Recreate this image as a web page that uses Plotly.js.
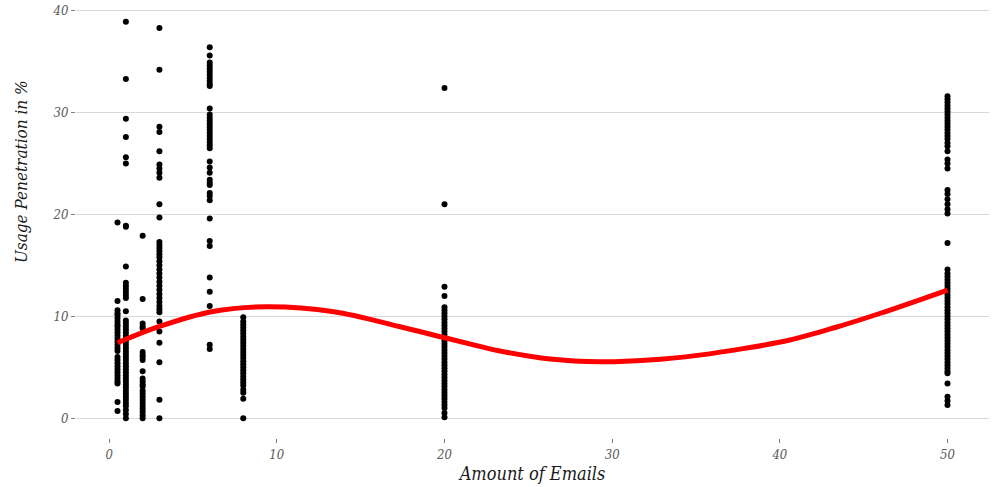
<!DOCTYPE html>
<html>
<head>
<meta charset="utf-8">
<script src="https://cdn.plot.ly/plotly-3.0.1.min.js"></script>
<style>html,body{margin:0;padding:0;background:#fff;}#chart{width:992px;height:487px;}</style>
</head>
<body>
<div id="chart"></div>
<script>
// Amount of emails per column and the usage penetration (%) values observed at each
const amounts = [0.5, 1, 2, 3, 6, 8, 20, 50];
const pen_0_5 = [19.2, 11.5, 10.6, 10.3, 10.1, 9.8, 9.5, 9.2, 9.0, 8.7, 8.4, 8.1, 7.8, 7.5, 7.2, 6.9, 6.6, 6.0, 5.7, 5.4, 5.1, 4.8, 4.5, 4.2, 3.9, 3.6, 3.4, 1.6, 0.7];
const pen_1 = [38.9, 33.3, 29.4, 27.6, 25.6, 25.0, 18.9, 18.8, 14.9, 13.3, 13.0, 12.7, 12.4, 12.1, 11.8, 10.5, 9.6, 9.3, 9.0, 8.7, 8.4, 8.1, 7.8, 7.5, 7.2, 6.9, 6.6, 6.3, 6.0, 5.7, 5.4, 5.1, 4.8, 4.5, 4.2, 3.9, 3.6, 3.3, 3.0, 2.7, 2.4, 2.1, 1.8, 1.5, 1.2, 0.8, 0.4, 0.0];
const pen_2 = [17.9, 11.7, 9.3, 9.0, 8.8, 6.5, 6.2, 6.0, 5.7, 4.6, 3.9, 3.6, 3.3, 3.1, 2.7, 2.4, 2.1, 1.8, 1.5, 1.2, 0.9, 0.6, 0.3, 0.0];
const pen_3 = [38.3, 34.2, 28.6, 28.1, 26.2, 24.9, 24.5, 24.1, 23.6, 21.0, 19.7, 17.3, 17.0, 16.7, 16.4, 16.1, 15.8, 15.4, 15.0, 14.6, 14.2, 13.8, 13.4, 13.0, 12.6, 12.2, 11.8, 11.4, 11.0, 10.7, 10.4, 9.5, 8.5, 7.4, 5.5, 1.8, 0.0];
const pen_6 = [36.4, 35.6, 34.9, 34.6, 34.3, 34.0, 33.7, 33.4, 33.1, 32.8, 32.6, 30.4, 29.8, 29.5, 29.2, 28.9, 28.6, 28.3, 28.0, 27.7, 27.4, 27.1, 26.8, 26.5, 25.2, 24.6, 24.1, 23.4, 23.1, 22.9, 22.1, 21.8, 21.4, 19.6, 17.4, 16.9, 13.8, 12.4, 11.0, 7.2, 6.8];
const pen_8 = [9.9, 9.5, 9.2, 8.9, 8.6, 8.3, 8.0, 7.7, 7.4, 7.1, 6.8, 6.5, 6.2, 5.9, 5.6, 5.3, 5.0, 4.7, 4.4, 4.1, 3.8, 3.5, 3.2, 2.8, 2.5, 1.9, 0.0];
const pen_20 = [32.4, 21.0, 12.9, 12.0, 10.9, 10.6, 10.3, 10.0, 9.7, 9.4, 9.1, 8.8, 8.5, 8.2, 7.9, 7.6, 7.3, 7.0, 6.7, 6.4, 6.1, 5.8, 5.5, 5.2, 4.9, 4.6, 4.3, 4.0, 3.7, 3.4, 3.1, 2.8, 2.5, 2.2, 1.9, 1.6, 1.3, 1.0, 0.5, 0.1];
const pen_50 = [31.6, 31.3, 31.0, 30.7, 30.4, 30.1, 29.8, 29.5, 29.2, 28.9, 28.6, 28.3, 28.0, 27.7, 27.4, 27.0, 26.7, 26.2, 25.4, 25.0, 24.5, 22.4, 22.0, 21.5, 21.0, 20.5, 20.1, 17.2, 14.6, 14.2, 13.9, 13.6, 13.3, 13.0, 12.7, 12.4, 12.1, 11.8, 11.5, 11.2, 10.9, 10.6, 10.3, 10.0, 9.7, 9.4, 9.1, 8.8, 8.5, 8.2, 7.9, 7.6, 7.3, 7.0, 6.7, 6.4, 6.1, 5.8, 5.5, 5.2, 4.9, 4.6, 4.4, 3.4, 2.1, 1.7, 1.3];

// Smoothed trend
const smoothX = [0.5, 3, 6.1, 9.4, 13.4, 17.3, 20, 22.1, 23.3, 26.3, 29.3, 32.2, 35.2, 37.9, 40.6, 43.3, 46, 50];
const smoothY = [7.4, 9.0, 10.45, 10.94, 10.45, 9.0, 7.9, 7.05, 6.6, 5.8, 5.53, 5.7, 6.19, 6.85, 7.67, 8.9, 10.3, 12.58];

const xTicks = [0, 10, 20, 30, 40, 50];
const yTicks = [0, 10, 20, 30, 40];

const columns = [pen_0_5, pen_1, pen_2, pen_3, pen_6, pen_8, pen_20, pen_50];
const px = [], py = [];
columns.forEach((col, i) => col.forEach(v => { px.push(amounts[i]); py.push(v); }));

const FONT = "'DejaVu Serif Condensed', 'DejaVu Serif', serif";

const traces = [
  {type: 'scatter', mode: 'markers', x: px, y: py,
   marker: {color: '#000000', size: 6}, hoverinfo: 'x+y', showlegend: false},
  {type: 'scatter', mode: 'lines', x: smoothX, y: smoothY,
   line: {color: '#ff0000', width: 5, shape: 'spline', smoothing: 1}, showlegend: false}
];

const layout = {
  width: 992, height: 487,
  margin: {l: 76, r: 3, t: 2, b: 49},
  paper_bgcolor: '#ffffff', plot_bgcolor: '#ffffff',
  font: {family: FONT, color: '#1a1a1a'},
  xaxis: {
    range: [-1.975, 52.475], tickvals: xTicks, ticktext: xTicks.map(String),
    showgrid: false, zeroline: false, showline: false,
    ticks: 'outside', ticklen: 4, tickcolor: '#7f7f7f', tickwidth: 1,
    tickfont: {family: FONT, size: 13, color: '#5a5a5a', style: 'italic'},
    title: {text: 'Amount of Emails', font: {family: FONT, size: 18, color: '#1a1a1a', style: 'italic'}, standoff: 6}
  },
  yaxis: {
    range: [-1.945, 40.85], tickvals: yTicks, ticktext: yTicks.map(String),
    showgrid: true, gridcolor: '#d9d9d9', gridwidth: 1, zeroline: false, showline: false,
    ticks: 'outside', ticklen: 4, tickcolor: '#7f7f7f', tickwidth: 1,
    tickfont: {family: FONT, size: 13, color: '#5a5a5a', style: 'italic'}
  },
  annotations: [{
    text: 'Usage Penetration in %', textangle: -90,
    xref: 'paper', yref: 'paper', x: -0.0602, y: 0.61,
    xanchor: 'center', yanchor: 'middle', showarrow: false,
    font: {family: FONT, size: 17, color: '#1a1a1a', style: 'italic'}
  }]
};

Plotly.newPlot('chart', traces, layout, {displayModeBar: false, staticPlot: true});
</script>
</body>
</html>
